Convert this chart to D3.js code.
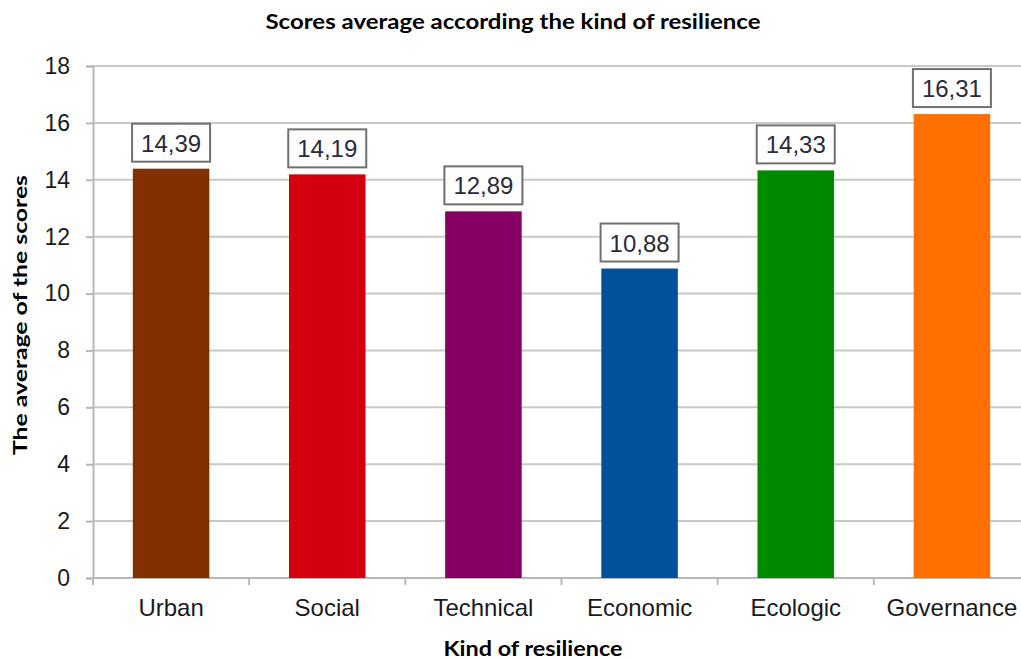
<!DOCTYPE html>
<html><head><meta charset="utf-8">
<script src="https://cdn.jsdelivr.net/npm/d3@7"></script>
<style>body{margin:0;background:#fff}svg{display:block}</style>
</head><body>
<svg id="c" width="1021" height="661"></svg>
<script>
const categories = ["Urban","Social","Technical","Economic","Ecologic","Governance"];
const values = [14.39,14.19,12.89,10.88,14.33,16.31];
const valueLabels = ["14,39","14,19","12,89","10,88","14,33","16,31"];
const colors = ["#823000","#d4000f","#850062","#00509b","#008a00","#ff7000"];
const yTicks = [0,2,4,6,8,10,12,14,16,18];

const svg = d3.select("#c");
const m = {left:93, right:1030, top:66, bottom:578};
const x = d3.scaleBand().domain(categories).range([m.left,m.right]).paddingInner(0.51).paddingOuter(0.255);
const y = d3.scaleLinear().domain([0,18]).range([m.bottom,m.top]);

// gridlines
svg.append("g").selectAll("line").data(yTicks.filter(d=>d>0)).join("line")
  .attr("x1",m.left).attr("x2",m.right).attr("y1",d=>y(d)).attr("y2",d=>y(d))
  .attr("stroke","#c8c8c8").attr("stroke-width",2);

// y axis
const ya = svg.append("g").attr("transform",`translate(${m.left},0)`)
  .call(d3.axisLeft(y).tickValues(yTicks).tickSize(7).tickPadding(16).tickFormat(d3.format("d")));
ya.select(".domain").attr("stroke","#b8b8b8").attr("stroke-width",2);
ya.selectAll(".tick line").attr("stroke","#b8b8b8").attr("stroke-width",2);
ya.selectAll("text").attr("font-family","Arial, 'Liberation Sans', sans-serif").attr("font-size",23).attr("fill","#1a1a1a");

// x axis
const bounds = d3.range(categories.length+1).map(i=> i<categories.length ? x(categories[i]) - x.step()*x.paddingInner()/2 : x(categories[i-1]) + x.bandwidth() + x.step()*x.paddingInner()/2);
svg.append("line").attr("x1",m.left).attr("x2",m.right).attr("y1",m.bottom).attr("y2",m.bottom)
  .attr("stroke","#b8b8b8").attr("stroke-width",2);
svg.append("g").selectAll("line").data(bounds).join("line")
  .attr("x1",d=>d).attr("x2",d=>d).attr("y1",m.bottom).attr("y2",m.bottom+7)
  .attr("stroke","#b8b8b8").attr("stroke-width",2);
svg.append("g").selectAll("text").data(categories).join("text")
  .attr("x",d=>x(d)+x.bandwidth()/2).attr("y",616).attr("text-anchor","middle")
  .attr("font-family","Arial, 'Liberation Sans', sans-serif").attr("font-size",24).attr("fill","#1a1a1a")
  .text(d=>d);

// bars
svg.append("g").selectAll("rect").data(values).join("rect")
  .attr("x",(d,i)=>x(categories[i])).attr("width",x.bandwidth())
  .attr("y",d=>y(d)).attr("height",d=>y(0)-y(d))
  .attr("fill",(d,i)=>colors[i]);

// value labels
const lg = svg.append("g").selectAll("g").data(values).join("g")
  .attr("transform",(d,i)=>`translate(${x(categories[i])+x.bandwidth()/2},${y(d)-6})`);
lg.append("rect").attr("x",-39).attr("y",-39).attr("width",78).attr("height",38)
  .attr("fill","#fff").attr("stroke","#707070").attr("stroke-width",2);
lg.append("text").attr("y",-11).attr("text-anchor","middle")
  .attr("font-family","Arial, 'Liberation Sans', sans-serif").attr("font-size",24).attr("fill","#2a2a3a")
  .text((d,i)=>valueLabels[i]);

// titles
svg.append("text").attr("x",513).attr("y",29).attr("text-anchor","middle")
  .attr("font-family","Lato, 'Open Sans', sans-serif").attr("font-weight","bold").attr("font-size",21)
  .attr("textLength",495).attr("lengthAdjust","spacingAndGlyphs")
  .text("Scores average according the kind of resilience");
svg.append("text").attr("x",533).attr("y",656).attr("text-anchor","middle")
  .attr("font-family","Lato, 'Open Sans', sans-serif").attr("font-weight","bold").attr("font-size",20)
  .attr("textLength",179).attr("lengthAdjust","spacingAndGlyphs")
  .text("Kind of resilience");
svg.append("text").attr("transform","translate(27,315) rotate(-90)").attr("text-anchor","middle")
  .attr("font-family","Lato, 'Open Sans', sans-serif").attr("font-weight","bold").attr("font-size",19)
  .attr("textLength",280).attr("lengthAdjust","spacingAndGlyphs")
  .text("The average of the scores");
</script>
</body></html>
